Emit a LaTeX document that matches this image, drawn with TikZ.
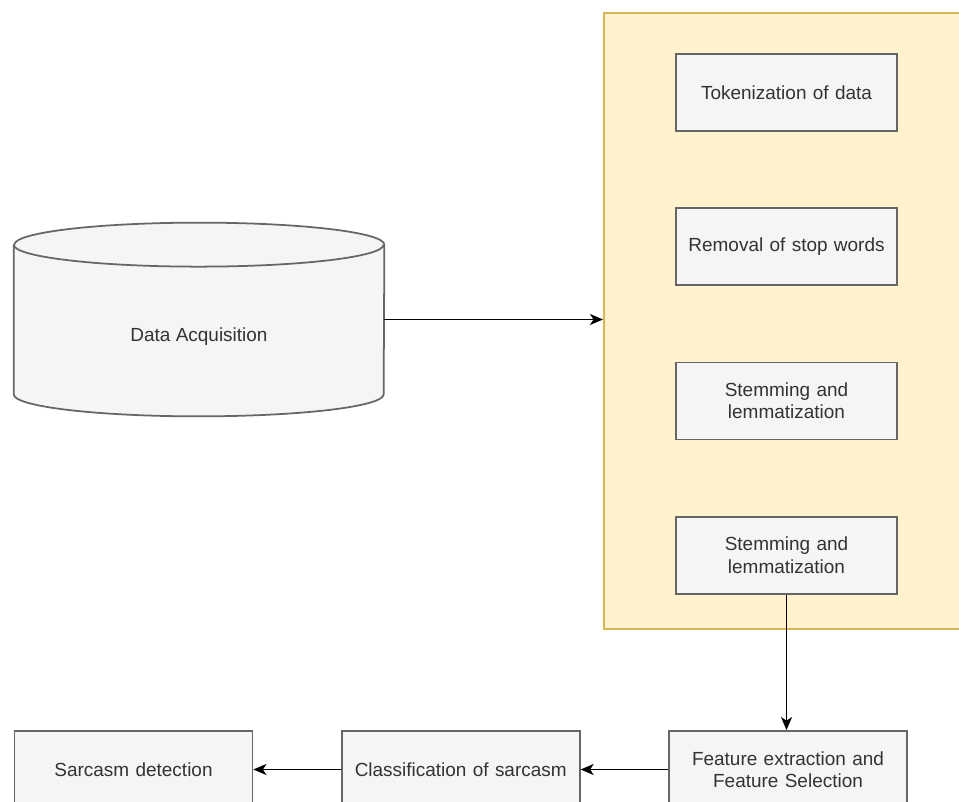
\documentclass[tikz,border=0pt]{standalone}
\usepackage{fontspec}
\setmainfont{Liberation Sans}
\usepackage{xcolor}
\usepackage{tikz}
\usetikzlibrary{shapes,arrows,arrows.meta,positioning,calc}
\definecolor{boxfill}{HTML}{F5F5F5}
\definecolor{boxline}{HTML}{666666}
\definecolor{boxtext}{HTML}{333333}
\definecolor{panelfill}{HTML}{FFF2CC}
\definecolor{panelline}{HTML}{D6B656}

\begin{document}
\begin{tikzpicture}[
    node distance=1.51cm,
    step box/.style={rectangle, draw=boxline, fill=boxfill, line width=1pt, text width=4.2cm, align=center, minimum width=4.42cm, minimum height=1.54cm, text=boxtext, font=\fontsize{10.8}{12.6}\selectfont},
    out box/.style={step box, minimum width=4.76cm, text width=4.5cm},
    panel/.style={rectangle, draw=panelline, fill=panelfill, line width=1pt, minimum width=7.6cm, minimum height=12.32cm},
    cyl/.style={draw=boxline, fill=boxfill, line width=1pt},
    arrow/.style={-{Stealth[length=2.6mm, width=2.2mm, inset=0.7mm]}, line width=1pt}
]
    \useasboundingbox (0,0) rectangle (19.18,16.02);

    % preprocessing panel
    \node[panel, anchor=north west] (prep) at (12.06,15.78) {};
    \node[step box] (tok) at (15.73,14.17) {Tokenization of data};
    \node[step box, below=of tok] (stop) {Removal of stop words};
    \node[step box, below=of stop] (stem) {Stemming and\\lemmatization};
    \node[step box, below=of stem] (lemma) {Stemming and\\lemmatization};

    % data source
    \node[minimum width=7.4cm, minimum height=3.86cm] (data) at (3.98,9.63) {};
    \draw[cyl] ($(data.north west)+(0,-0.44)$) -- ($(data.south west)+(0,0.44)$)
        arc[start angle=180, end angle=360, x radius=3.7cm, y radius=0.44cm]
        -- ($(data.north east)+(0,-0.44)$)
        arc[start angle=0, end angle=180, x radius=3.7cm, y radius=0.44cm] -- cycle;
    \draw[cyl] ($(data.north west)+(0,-0.44)$)
        arc[start angle=180, end angle=360, x radius=3.7cm, y radius=0.44cm];
    \node[text=boxtext, font=\fontsize{10.8}{12.6}\selectfont] (datatxt) at ([yshift=-0.35cm]data.center) {Data Acquisition};

    % bottom row
    \node[out box] (feat) at (15.76,0.63) {Feature extraction and\\Feature Selection};
    \node[out box, left=1.75cm of feat] (cls) {Classification of sarcasm};
    \node[out box, left=1.75cm of cls] (sarc) {Sarcasm detection};

    \draw[arrow] (data.east) -- (data.east -| prep.west);
    \draw[arrow] (lemma.south) -- (lemma.south |- feat.north);
    \draw[arrow] (feat) -- (cls);
    \draw[arrow] (cls) -- (sarc);
\end{tikzpicture}
\end{document}
